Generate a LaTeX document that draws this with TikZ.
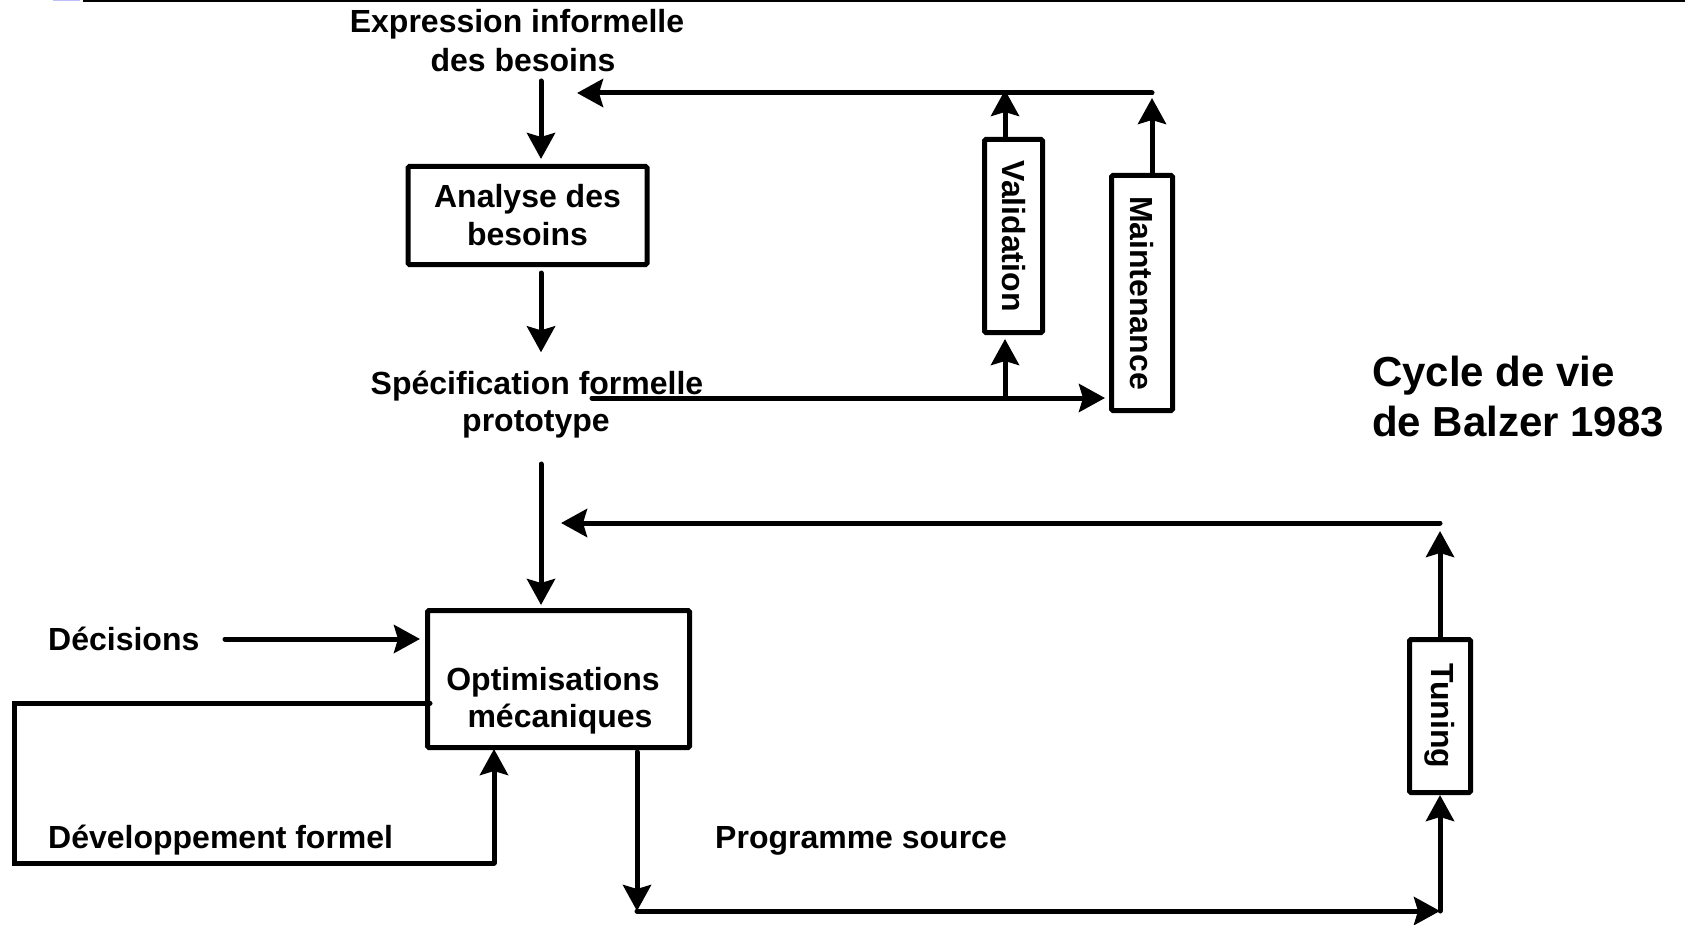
\documentclass[tikz,border=0pt]{standalone}
\usepackage{fontspec}
\setmainfont{Liberation Sans}
\usetikzlibrary{arrows.meta}
\begin{document}
\begin{tikzpicture}[x=1pt,y=-1pt,
  lbl/.style={font=\fontsize{32}{38}\selectfont\bfseries, inner sep=0pt},
  title/.style={font=\fontsize{42}{53}\selectfont\bfseries, inner sep=0pt},
  frame/.style={draw, line width=5pt, rounded corners=1.5pt, inner sep=0pt, align=center},
  arr/.style={line width=5pt, line cap=round, -{Stealth[length=26pt,width=28pt,inset=4pt]}},
  wire/.style={line width=5pt, line cap=round, line join=miter}
]
\useasboundingbox (0,0) rectangle (1685,925);

% rule along the top edge
\fill[blue!25] (53,0) rectangle (80,1.3);
\draw[line width=1.6pt] (83,0.8) -- (1685,0.8);

% labels
\node[lbl, anchor=base] (expr1) at (517,33) {Expression informelle};
\node[lbl, anchor=base] (expr2) at (523,72) {des besoins};
\node[lbl, anchor=base] (spec1) at (537,394) {Spécification formelle};
\node[lbl, anchor=base] (spec2) at (536,431) {prototype};
\node[lbl, anchor=base west] (dec) at (48,650) {Décisions};
\node[lbl, anchor=base west] (dev) at (48,848) {Développement formel};
\node[lbl, anchor=base west] (prog) at (715,848) {Programme source};
\node[title, anchor=base west] (cyc1) at (1372,386) {Cycle de vie};
\node[title, anchor=base west] (cyc2) at (1372,436) {de Balzer 1983};

% boxes
\node[frame, lbl, minimum width=239pt, minimum height=98pt] (ana) at (527.5,215.5) {Analyse des\\besoins};
\node[frame, lbl, minimum width=58pt, minimum height=193pt] (val) at (1013.5,236) {\rotatebox{-90}{Validation}};
\node[frame, lbl, minimum width=61pt, minimum height=235pt] (mnt) at (1142,293) {\rotatebox{-90}{Maintenance}};
\node[frame, minimum width=262pt, minimum height=137pt] (opt) at (558.5,679) {};
\node[lbl, anchor=base] (opt1) at (553,690) {Optimisations};
\node[lbl, anchor=base] (opt2) at (560,727) {mécaniques};
\node[frame, lbl, minimum width=61pt, minimum height=153pt] (tun) at (1440,716) {\rotatebox{-90}{Tuning}};

% helper points
\coordinate (a0) at (541,81);
\coordinate (a1) at (541,273);
\coordinate (a2) at (541,464);
\coordinate (s0) at (592,398);
\coordinate (vx) at (1005,398);
\coordinate (tl) at (1152,93);
\coordinate (te) at (577,93);
\coordinate (fb) at (1440,523);
\coordinate (fe) at (561,523);
\coordinate (b0) at (637,752);
\coordinate (bl) at (637,911);
\coordinate (d0) at (225,639);
\coordinate (lo) at (430,703);
\coordinate (dl) at (14,863);
\coordinate (dx) at (494,0);

% main flow
\draw[arr, shorten >=5pt] (a0) -- (ana.north -| a0);
\draw[arr, shorten >=18pt] (a1) -- (spec1.north -| a1);
\draw[arr, shorten >=3pt] (a2) -- (opt.north -| a2);

% specification feedback
\draw[arr, shorten >=4pt] (s0) -- (s0 -| mnt.west);
\draw[arr, shorten >=4pt] (vx) -- (val.south -| vx);
\draw[arr, shorten >=-3pt] (val.north -| vx) -- (tl -| vx);
\draw[arr, shorten >=5pt] (mnt.north -| tl) -- (tl);
\draw[arr] (tl) -- (te);

% optimisation inputs
\draw[arr, shorten >=5pt] (d0) -- (d0 -| opt.west);
\draw[wire] (lo) -- (lo -| dl) -- (dl) -- (dl -| dx);
\draw[arr, shorten >=-1pt] (dl -| dx) -- (opt.south -| dx);

% source program and tuning
\draw[arr] (b0) -- (bl);
\draw[arr] (bl) -- (bl -| tun);
\draw[arr] (bl -| tun) -- (tun.south);
\draw[arr, shorten >=8pt] (tun.north) -- (fb);
\draw[arr] (fb) -- (fe);

\end{tikzpicture}
\end{document}
